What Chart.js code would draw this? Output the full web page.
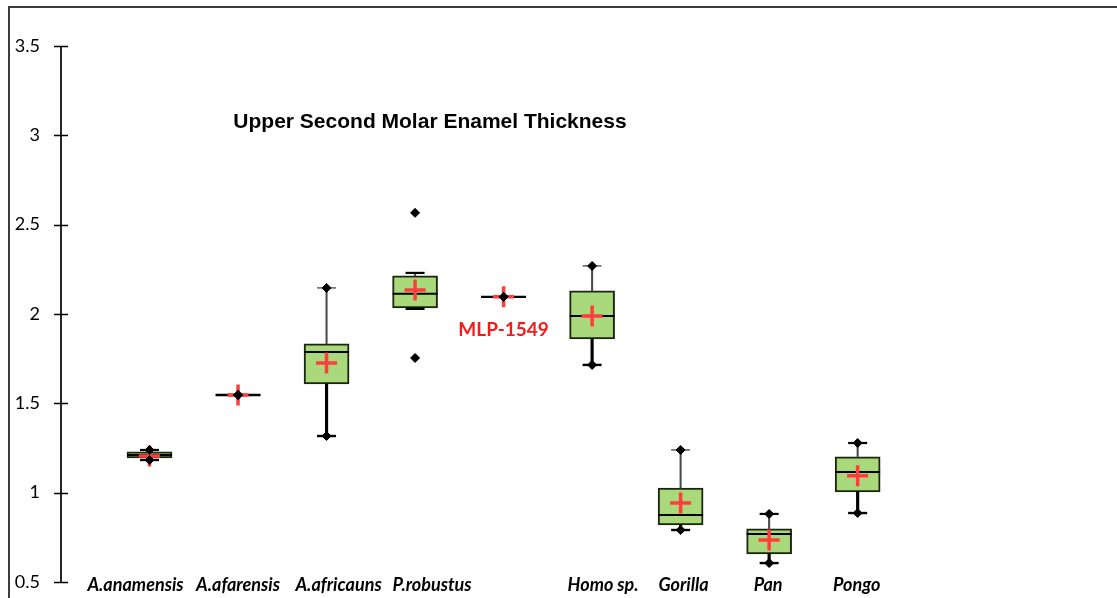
<!DOCTYPE html>
<html>
<head>
<meta charset="utf-8">
<title>Upper Second Molar Enamel Thickness</title>
<script src="https://cdn.jsdelivr.net/npm/chart.js@4.4.1/dist/chart.umd.min.js"></script>
<style>
  html, body { margin: 0; padding: 0; background: #ffffff; }
  #wrap { position: relative; width: 1117px; height: 598px; }
</style>
</head>
<body>
<div id="wrap"><canvas id="chart"></canvas></div>
<script>
// Taxa along the horizontal axis (MLP-1549 is a single specimen)
const categories = ['A.anamensis', 'A.afarensis', 'A.africauns', 'P.robustus', 'MLP-1549', 'Homo sp.', 'Gorilla', 'Pan', 'Pongo'];

// Box-plot statistics (relative enamel thickness)
const lowWhisker  = [1.183, null, 1.317, 2.029, null, 1.715, 0.791, 0.606, 0.886];
const q1          = [1.194, 1.547, 1.609, 2.034, 2.096, 1.861, 0.819, 0.657, 1.004];
const median      = [1.211, 1.547, 1.788, 2.113, 2.096, 1.989, 0.875, 0.769, 1.116];
const q3          = [1.228, 1.547, 1.833, 2.213, 2.096, 2.129, 1.026, 0.797, 1.200];
const highWhisker = [1.239, null, 2.146, 2.230, null, 2.269, 1.239, 0.881, 1.278];
const minimum     = [1.183, 1.547, 1.317, 1.754, 2.096, 1.715, 0.791, 0.606, 0.886];
const maximum     = [1.239, 1.547, 2.146, 2.566, 2.096, 2.269, 1.239, 0.881, 1.278];
const mean        = [1.205, 1.547, 1.726, 2.135, 2.096, 1.989, 0.942, 0.735, 1.094];

// Value-axis tick labels
const yTickValues = [0.5, 1, 1.5, 2, 2.5, 3, 3.5];
const yTickLabels = ['0.5', '1', '1.5', '2', '2.5', '3', '3.5'];

const chartTitle = 'Upper Second Molar Enamel Thickness';

// ---- derived series ----
const xs = categories.map((_, i) => i + 1);
const pts = arr => arr.map((v, i) => (v == null ? null : { x: xs[i], y: v })).filter(Boolean);
const ranges = (lo, hi) => lo.map((v, i) => (v == null || hi[i] == null || hi[i] <= v) ? null : { x: xs[i], y: [v, hi[i]] }).filter(Boolean);

const boxData = ranges(q1, q3);
const upperWhiskerData = ranges(q3, highWhisker);
const lowerWhiskerData = ranges(lowWhisker, q1);
const extremes = pts(minimum).concat(pts(maximum));

const RED = '#ff3d3d';
const GREEN = '#a9d97a';
const BOX_EDGE = '#1b260f';

// horizontal label nudges (px) for the taxon names under the plot
const labelNudge = [-14, 0, 12, 17, 0, 11, 3, -1, -1];

const decorations = {
  id: 'decorations',
  afterDraw(chart) {
    const { ctx, chartArea, scales } = chart;
    const y = scales.y, x = scales.x;
    ctx.save();

    // outer frame (top and left edges)
    ctx.strokeStyle = '#3c3c3c';
    ctx.lineWidth = 2;
    ctx.beginPath();
    ctx.moveTo(9, 598); ctx.lineTo(9, 7); ctx.lineTo(1117, 7);
    ctx.stroke();

    // value axis with ticks crossing the axis line
    ctx.strokeStyle = '#000';
    ctx.lineWidth = 1.7;
    ctx.beginPath();
    ctx.moveTo(chartArea.left, y.getPixelForValue(yTickValues[0]));
    ctx.lineTo(chartArea.left, y.getPixelForValue(yTickValues[yTickValues.length - 1]));
    yTickValues.forEach(v => {
      const py = Math.round(y.getPixelForValue(v)) + 0.5;
      ctx.moveTo(chartArea.left - 7, py);
      ctx.lineTo(chartArea.left + 7, py);
    });
    ctx.stroke();

    // tick labels
    ctx.fillStyle = '#000';
    ctx.font = '18px Lato, "Open Sans", sans-serif';
    ctx.textAlign = 'right';
    ctx.textBaseline = 'middle';
    yTickValues.forEach((v, i) => {
      ctx.fillText(yTickLabels[i], chartArea.left - 21, y.getPixelForValue(v));
    });

    // title
    ctx.font = 'bold 21px "Liberation Sans", Arial, sans-serif';
    ctx.textAlign = 'center';
    ctx.fillText(chartTitle, 430, 122);

    // taxon names
    categories.forEach((name, i) => {
      if (name === 'MLP-1549') {
        ctx.fillStyle = '#f01c1c';
        ctx.font = 'bold 19px Lato, "Open Sans", sans-serif';
        ctx.fillText(name, x.getPixelForValue(xs[i]), y.getPixelForValue(median[i]) + 33);
      } else {
        ctx.fillStyle = '#000';
        ctx.font = 'italic bold 18px Lato, "Open Sans", sans-serif';
        ctx.fillText(name, x.getPixelForValue(xs[i]) + labelNudge[i], 585);
      }
    });
    ctx.restore();
  }
};

new Chart(document.getElementById('chart'), {
  type: 'bar',
  data: {
    datasets: [
      { // min / max markers
        type: 'scatter', data: extremes, order: 0,
        pointStyle: 'rectRot', pointRadius: 4.5,
        backgroundColor: '#000', borderColor: '#000', borderWidth: 1
      },
      { // means
        type: 'scatter', data: pts(mean), order: 1,
        pointStyle: 'cross', pointRadius: 10.5,
        borderColor: RED, borderWidth: 3.5
      },
      { // upper whisker caps
        type: 'scatter', data: pts(highWhisker), order: 2,
        pointStyle: 'line', pointRadius: 9.5,
        borderColor: ctx => (highWhisker[ctx.dataIndex] !== maximum[ctx.dataIndex] ? '#444' : '#000'),
        borderWidth: ctx => (highWhisker[ctx.dataIndex] !== maximum[ctx.dataIndex] ? 1.3 : 2.2)
      },
      { // lower whisker caps
        type: 'scatter', data: pts(lowWhisker), order: 2,
        pointStyle: 'line', pointRadius: 9.5,
        borderColor: '#000', borderWidth: 2.4
      },
      { // medians
        type: 'scatter', data: pts(median), order: 3,
        pointStyle: 'line', pointRadius: 22.5,
        borderColor: '#000',
        borderWidth: ctx => (q1[ctx.dataIndex] === q3[ctx.dataIndex] ? 2.4 : 2)
      },
      { // upper whiskers
        data: upperWhiskerData, order: 4, grouped: false,
        barThickness: 1.4, backgroundColor: '#4a4a4a', borderWidth: 0
      },
      { // lower whiskers
        data: lowerWhiskerData, order: 4, grouped: false,
        barThickness: 2.5, backgroundColor: '#000', borderWidth: 0
      },
      { // interquartile boxes
        data: boxData, order: 5, grouped: false,
        barThickness: 45, backgroundColor: GREEN,
        borderColor: BOX_EDGE, borderWidth: 2, borderSkipped: false
      }
    ]
  },
  options: {
    responsive: true,
    maintainAspectRatio: false,
    animation: false,
    events: [],
    layout: { autoPadding: false, padding: { top: 46, bottom: 16, left: 0, right: 0 } },
    plugins: { legend: { display: false }, tooltip: { enabled: false }, title: { display: false } },
    scales: {
      x: { type: 'linear', min: 0, max: 11.93, offset: false, bounds: 'data', display: false },
      y: {
        type: 'linear', min: 0.5, max: 3.5, offset: false,
        afterFit: s => { s.width = 61; },
        afterBuildTicks: s => { s.ticks = yTickValues.map(v => ({ value: v })); },
        grid: { display: false, drawTicks: false },
        border: { display: false },
        ticks: { display: false }
      }
    }
  },
  plugins: [decorations]
});
</script>
</body>
</html>
